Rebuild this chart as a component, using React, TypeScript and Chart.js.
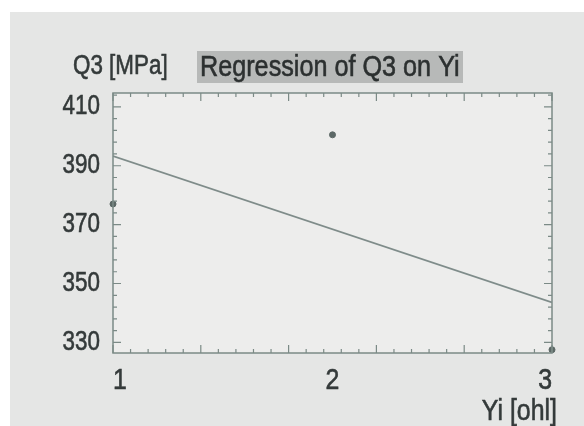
import React, { useEffect, useRef } from "react";
import { Chart, registerables } from "chart.js";

Chart.register(...registerables);

const xValues = [1, 2, 3];
const q3Values = [377, 400.5, 327.5];
const regressionX = [1, 3];
const regressionY = [393.3, 343.6];
const xTicks = [1, 2, 3];
const yTicks = [330, 350, 370, 390, 410];

const FONT = "'Liberation Sans', Arial, sans-serif";
const TEXT = "#343a3a";
const AXIS = "#7b8a86";

function narrowText(ctx: any, text: string, x: number, y: number, size: number, align: string, baseline: string, color: string, sx = 0.83) {
  ctx.save();
  ctx.translate(x, y);
  ctx.scale(sx, 1);
  ctx.font = `${size}px ${FONT}`;
  ctx.fillStyle = color;
  ctx.strokeStyle = color;
  ctx.lineWidth = 0.6;
  ctx.textAlign = align;
  ctx.textBaseline = baseline;
  ctx.fillText(text, 0, 0);
  ctx.strokeText(text, 0, 0);
  ctx.restore();
}

const decor = {
  id: "decor",
  beforeDraw(chart: any) {
    const { ctx, width, height, chartArea } = chart;
    ctx.save();
    ctx.fillStyle = "#ffffff";
    ctx.fillRect(0, 0, width, height);
    ctx.fillStyle = "#e5e6e5";
    ctx.fillRect(10, 12, width - 10, height - 12);
    ctx.fillStyle = "#ededec";
    ctx.fillRect(chartArea.left, chartArea.top, chartArea.right - chartArea.left, chartArea.bottom - chartArea.top);
    ctx.fillStyle = "#b7b9b8";
    ctx.fillRect(197, 51, 266, 32);
    ctx.restore();
    narrowText(ctx, "Regression of Q3 on Yi", 200, 76, 30, "left", "alphabetic", "#2c3030", 0.84);
    narrowText(ctx, "Q3 [MPa]", 73, 74, 27, "left", "alphabetic", TEXT);
    narrowText(ctx, "Yi [ohl]", 557, 420, 30, "right", "alphabetic", TEXT);
  },
  afterDatasetsDraw(chart: any) {
    const { ctx, chartArea, scales } = chart;
    const { left, right, top, bottom } = chartArea;
    ctx.save();
    ctx.strokeStyle = AXIS;
    ctx.lineWidth = 1.5;
    ctx.strokeRect(left, top, right - left, bottom - top);
    ctx.lineWidth = 1.2;
    ctx.beginPath();
    for (let i = 0; i <= 25; i++) {
      const v = 1 + i * 0.08;
      const px = scales.x.getPixelForValue(v);
      const len = i % 5 === 0 ? 8 : 4;
      ctx.moveTo(px, bottom);
      ctx.lineTo(px, bottom - len);
      ctx.moveTo(px, top);
      ctx.lineTo(px, top + len);
    }
    for (let i = 0; i <= 21; i++) {
      const v = 330 + i * 4;
      const py = scales.y.getPixelForValue(v);
      if (py < top) continue;
      const len = i % 5 === 0 ? 8 : 4;
      ctx.moveTo(left, py);
      ctx.lineTo(left + len, py);
      ctx.moveTo(right, py);
      ctx.lineTo(right - len, py);
    }
    ctx.stroke();
    ctx.restore();
    yTicks.forEach((v) => {
      narrowText(ctx, String(v), left - 13, scales.y.getPixelForValue(v), 27, "right", "middle", TEXT);
    });
    xTicks.forEach((v, i) => {
      const align = i === 0 ? "left" : i === xTicks.length - 1 ? "right" : "center";
      narrowText(ctx, String(v), scales.x.getPixelForValue(v), 389, 30, align, "alphabetic", TEXT);
    });
  },
};

export default function App() {
  const ref = useRef<HTMLCanvasElement | null>(null);
  useEffect(() => {
    if (!ref.current) return;
    const chart = new Chart(ref.current, {
      type: "scatter",
      data: {
        datasets: [
          {
            label: "Regression",
            data: regressionX.map((x, i) => ({ x, y: regressionY[i] })),
            showLine: true,
            borderColor: "#7f8c8a",
            borderWidth: 1.8,
            pointRadius: 0,
            fill: false,
          },
          {
            label: "Q3",
            data: xValues.map((x, i) => ({ x, y: q3Values[i] })),
            showLine: false,
            pointRadius: 3,
            pointBackgroundColor: "#5c6866",
            pointBorderColor: "#5c6866",
            clip: false as any,
          },
        ],
      },
      options: {
        responsive: false,
        animation: false,
        layout: { padding: { left: 0, top: 93, right: 32, bottom: 0 } },
        plugins: { legend: { display: false }, tooltip: { enabled: false }, title: { display: false } },
        scales: {
          x: {
            type: "linear",
            min: 1,
            max: 3,
            afterBuildTicks: (s: any) => {
              s.ticks = xTicks.map((v) => ({ value: v }));
            },
            afterFit: (s: any) => {
              s.height = 73;
            },
            grid: { display: false, drawTicks: false },
            border: { display: false },
            ticks: { display: false },
          },
          y: {
            type: "linear",
            min: 326.4,
            max: 414.7,
            afterBuildTicks: (s: any) => {
              s.ticks = yTicks.map((v) => ({ value: v }));
            },
            afterFit: (s: any) => {
              s.width = 113;
            },
            grid: { display: false, drawTicks: false },
            border: { display: false },
            ticks: { display: false },
          },
        },
      },
      plugins: [decor],
    });
    return () => chart.destroy();
  }, []);
  return (
    <div style={{ position: "absolute", left: 0, top: 0, width: 584, height: 426 }}>
      <canvas ref={ref} width={584} height={426} style={{ display: "block" }} />
    </div>
  );
}
